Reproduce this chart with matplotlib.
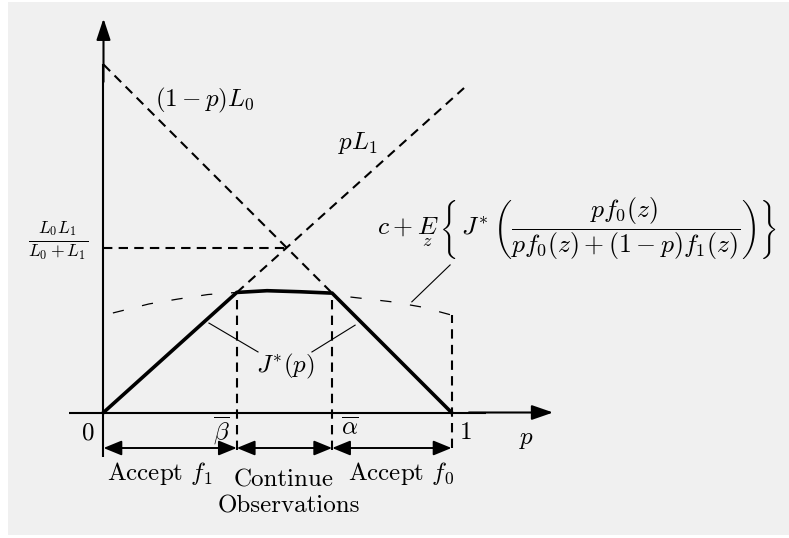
import matplotlib
matplotlib.use("Agg")
import matplotlib.pyplot as plt
from matplotlib.patches import Rectangle

plt.rcParams["mathtext.fontset"] = "cm"
plt.rcParams["font.family"] = ["cmr10", "DejaVu Sans"]
plt.rcParams["axes.formatter.use_mathtext"] = True

# Model parameters
L0 = 1.0
L1 = 0.9
beta_bar = 0.383
alpha_bar = 0.657

cont_p = [0.027, 0.131, 0.214, 0.300, 0.383, 0.470, 0.565, 0.657, 0.708, 0.829, 0.915, 1.0]
cont_v = [0.286, 0.312, 0.326, 0.339, 0.345, 0.350, 0.347, 0.343, 0.332, 0.318, 0.303, 0.280]

# Optimal cost-to-go J*(p)
jstar_p = [0.0, 0.383, 0.470, 0.565, 0.657, 1.0]
jstar_v = [0.0, 0.345, 0.350, 0.347, 0.343, 0.0]

# Region labels under the p axis
region_labels = ["Accept $f_1$", "Continue", "Observations", "Accept $f_0$"]

W, H = 789, 538
fig = plt.figure(figsize=(W / 100, H / 100), dpi=100)
fig.patch.set_facecolor("white")
fig.patches.append(Rectangle((8 / W, 3 / H), 1 - 8 / W, 1 - 5 / H,
                             transform=fig.transFigure, facecolor="#f0f0f0",
                             edgecolor="none", zorder=-10))

ax = fig.add_axes([0, 0, 1, 1])
ax.set_xlim(-0.2974, 1.9698)
ax.set_ylim(-0.3606, 1.1853)
ax.axis("off")
ax.patch.set_alpha(0)

K = "black"
TXT = 18

# Axes with arrows
ax.plot([0, 0], [-0.128, 1.0], color=K, lw=1.5, solid_capstyle="butt")
ax.annotate("", xy=(0, 1.132), xytext=(0, 0.95),
            arrowprops=dict(arrowstyle="-|>,head_length=1.3,head_width=0.43",
                            mutation_scale=10, lw=1.5, color=K,
                            shrinkA=0, shrinkB=0))
ax.plot([-0.1, 1.1], [0, 0], color=K, lw=1.5, solid_capstyle="butt")
ax.annotate("", xy=(1.292, 0), xytext=(1.05, 0),
            arrowprops=dict(arrowstyle="-|>,head_length=1.3,head_width=0.45",
                            mutation_scale=10, lw=1.5, color=K,
                            shrinkA=0, shrinkB=0))

dash_kw = dict(color=K, lw=1.5, dashes=(4.5, 3))

# Decision-cost lines
p_cross = L0 / (L0 + L1)
ax.plot([0, alpha_bar], [L0, (1 - alpha_bar) * L0], **dash_kw)
ax.plot([beta_bar, 1.036], [beta_bar * L1, 1.036 * L1], **dash_kw)
ax.plot([0, p_cross], [L0 * L1 / (L0 + L1)] * 2, **dash_kw)

# Continuation cost (thin dashed)
ax.plot(cont_p, cont_v, color=K, lw=0.9, dashes=(9, 15))

# Threshold verticals
ax.plot([beta_bar, beta_bar], [-0.108, beta_bar * L1], **dash_kw)
ax.plot([alpha_bar, alpha_bar], [-0.108, (1 - alpha_bar) * L0], **dash_kw)
ax.plot([1.0, 1.0], [-0.102, cont_v[-1]], **dash_kw)

# Optimal cost
ax.plot(jstar_p, jstar_v, color=K, lw=2.6, solid_joinstyle="miter")

# Region arrows
arr_y = -0.102
for a, b in [(0, beta_bar), (beta_bar, alpha_bar), (alpha_bar, 1.0)]:
    ax.annotate("", xy=(b, arr_y), xytext=(a, arr_y),
                arrowprops=dict(arrowstyle="<|-|>,head_length=1.1,head_width=0.45",
                                mutation_scale=10, lw=1.4, color=K,
                                shrinkA=0, shrinkB=0))

# Leader lines
thin = dict(color=K, lw=0.8)
ax.plot([0.303, 0.444], [0.257, 0.174], **thin)
ax.plot([0.599, 0.723], [0.174, 0.251], **thin)
ax.plot([0.886, 0.996], [0.318, 0.424], **thin)

# Labels
ax.text(0.148, 0.898, r"$(1-p)L_0$", fontsize=TXT, ha="left", va="center")
ax.text(0.674, 0.774, r"$pL_1$", fontsize=TXT, ha="left", va="center")
ax.text(-0.131, 0.496, r"$\frac{L_0L_1}{L_0+L_1}$", fontsize=TXT, ha="center", va="center")
ax.text(-0.045, -0.059, "0", fontsize=TXT, ha="center", va="center")
ax.text(1.041, -0.059, "1", fontsize=TXT, ha="center", va="center")
ax.text(1.217, -0.079, r"$p$", fontsize=TXT, ha="center", va="center")
ax.text(0.340, -0.053, r"$\overline{\beta}$", fontsize=TXT, ha="center", va="center")
ax.text(0.708, -0.045, r"$\overline{\alpha}$", fontsize=TXT, ha="center", va="center")
ax.text(0.523, 0.131, r"$J^{*}(p)$", fontsize=TXT, ha="center", va="center")

ax.text(0.162, -0.174, region_labels[0], fontsize=TXT, ha="center", va="center")
ax.text(0.519, -0.194, region_labels[1], fontsize=TXT, ha="center", va="center")
ax.text(0.532, -0.269, region_labels[2], fontsize=TXT, ha="center", va="center")
ax.text(0.856, -0.174, region_labels[3], fontsize=TXT, ha="center", va="center")

ax.text(0.786, 0.527,
        r"$c+\underset{z}{E}\,\left\{\,J^{*}\,\left(\dfrac{pf_0(z)}{pf_0(z)+(1-p)f_1(z)}\right)\right\}$",
        fontsize=18.5, ha="left", va="center")

fig.savefig("out.png", dpi=100, facecolor=fig.get_facecolor())
